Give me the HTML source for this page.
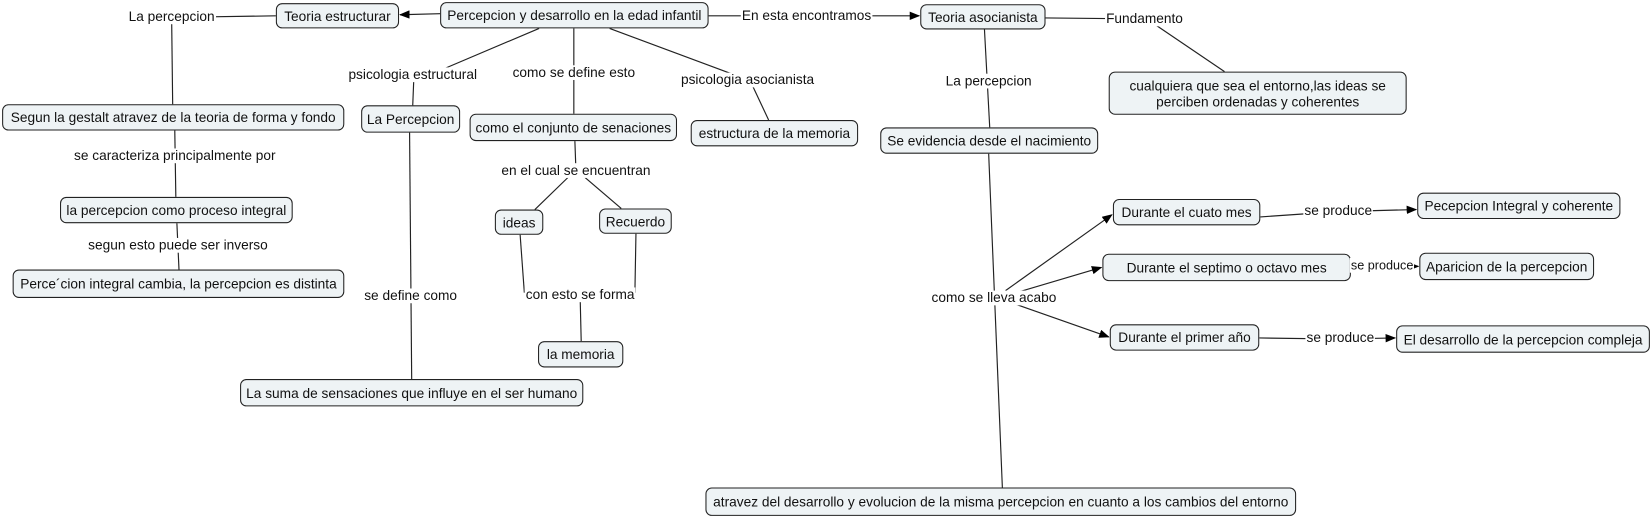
<!DOCTYPE html>
<html><head><meta charset="utf-8"><style>
html,body{margin:0;padding:0;background:#fff;width:1651px;height:519px;overflow:hidden}
#w{position:absolute;left:0;top:0;width:1568px;height:493px;transform:scale(1.0529);transform-origin:0 0;font-family:"Liberation Sans",sans-serif;font-size:13px;color:#111}
.n{position:absolute;box-sizing:border-box;border:1px solid #222;border-radius:6px;background:#eef3f5;display:flex;align-items:center;justify-content:center;text-align:center;line-height:15px;white-space:nowrap}
.l{position:absolute;background:#fff;transform:translate(-50%,-50%);white-space:nowrap;padding:0 1px;line-height:14px}
svg{position:absolute;left:0;top:0}
</style></head><body><div id="w">
<svg width="1568" height="493" viewBox="0 0 1568 493">
<defs><marker id="a" markerWidth="10" markerHeight="8" refX="9" refY="4" orient="auto" markerUnits="userSpaceOnUse"><path d="M0,0 L10,4 L0,8 z" fill="#000"/></marker></defs>
<g stroke="#222" stroke-width="1.1" fill="none">
<line x1="418" y1="13" x2="380" y2="14" marker-end="url(#a)"/>
<line x1="262" y1="15" x2="200" y2="16"/>
<line x1="163" y1="16" x2="164" y2="99"/>
<line x1="673" y1="15" x2="766" y2="15"/>
<line x1="766" y1="15" x2="873" y2="15" marker-end="url(#a)"/>
<line x1="993" y1="17" x2="1087" y2="18"/>
<line x1="1098" y1="24" x2="1163" y2="68"/>
<line x1="512" y1="27" x2="420" y2="66"/>
<line x1="393" y1="75" x2="392" y2="100"/>
<line x1="545" y1="27" x2="545" y2="108"/>
<line x1="579" y1="27" x2="700" y2="72"/>
<line x1="715" y1="82" x2="730" y2="114"/>
<line x1="935" y1="28" x2="940" y2="121"/>
<line x1="166" y1="124" x2="167" y2="187"/>
<line x1="168" y1="212" x2="170" y2="256"/>
<line x1="389" y1="126" x2="391" y2="360"/>
<line x1="546" y1="134" x2="547" y2="162"/>
<line x1="540" y1="168" x2="508" y2="199"/>
<line x1="555" y1="168" x2="590" y2="198"/>
<line x1="494" y1="223" x2="498" y2="278"/>
<line x1="604" y1="222" x2="603" y2="278"/>
<line x1="551" y1="282" x2="552" y2="324"/>
<line x1="939" y1="146" x2="952" y2="463"/>
<line x1="955" y1="276" x2="1056" y2="204" marker-end="url(#a)"/>
<line x1="965" y1="278" x2="1046" y2="254" marker-end="url(#a)"/>
<line x1="962" y1="288" x2="1053" y2="320" marker-end="url(#a)"/>
<line x1="1197" y1="206" x2="1270" y2="201"/>
<line x1="1270" y1="201" x2="1345" y2="199" marker-end="url(#a)"/>
<line x1="1283" y1="254" x2="1290" y2="253"/>
<line x1="1290" y1="253" x2="1347" y2="253" marker-end="url(#a)"/>
<line x1="1196" y1="321" x2="1273" y2="322"/>
<line x1="1273" y1="322" x2="1325" y2="321" marker-end="url(#a)"/>
</g></svg>
<div class="n" style="left:262px;top:3px;width:117px;height:24px">Teoria estructurar</div>
<div class="n" style="left:418px;top:2px;width:255px;height:25px">Percepcion y desarrollo en la edad infantil</div>
<div class="n" style="left:874px;top:4px;width:119px;height:24px">Teoria asocianista</div>
<div class="n" style="left:1053px;top:68px;width:283px;height:41px">cualquiera que sea el entorno,las ideas se<br>perciben ordenadas y coherentes</div>
<div class="n" style="left:2px;top:99px;width:325px;height:25px">Segun la gestalt atravez de la teoria de forma y fondo</div>
<div class="n" style="left:343px;top:100px;width:94px;height:26px">La Percepcion</div>
<div class="n" style="left:446px;top:108px;width:197px;height:26px">como el conjunto de senaciones</div>
<div class="n" style="left:656px;top:114px;width:159px;height:25px">estructura de la memoria</div>
<div class="n" style="left:836px;top:121px;width:207px;height:25px">Se evidencia desde el nacimiento</div>
<div class="n" style="left:57px;top:187px;width:221px;height:25px">la percepcion como proceso integral</div>
<div class="n" style="left:470px;top:199px;width:46px;height:24px">ideas</div>
<div class="n" style="left:569px;top:198px;width:69px;height:24px">Recuerdo</div>
<div class="n" style="left:12px;top:256px;width:315px;height:27px">Perce´cion integral cambia, la percepcion es distinta</div>
<div class="n" style="left:1057px;top:189px;width:140px;height:25px">Durante el cuato mes</div>
<div class="n" style="left:1346px;top:183px;width:193px;height:25px">Pecepcion Integral y coherente</div>
<div class="n" style="left:1047px;top:241px;width:236px;height:26px">Durante el septimo o octavo mes</div>
<div class="n" style="left:1348px;top:240px;width:166px;height:26px">Aparicion de la percepcion</div>
<div class="n" style="left:1054px;top:308px;width:142px;height:25px">Durante el primer año</div>
<div class="n" style="left:1326px;top:309px;width:241px;height:26px">El desarrollo de la percepcion compleja</div>
<div class="n" style="left:511px;top:324px;width:81px;height:25px">la memoria</div>
<div class="n" style="left:228px;top:360px;width:326px;height:26px">La suma de sensaciones que influye en el ser humano</div>
<div class="n" style="left:670px;top:463px;width:561px;height:27px">atravez del desarrollo y evolucion de la misma percepcion en cuanto a los cambios del entorno</div>
<div class="l" style="left:163px;top:16px">La percepcion</div>
<div class="l" style="left:766px;top:15px">En esta encontramos</div>
<div class="l" style="left:1087px;top:18px">Fundamento</div>
<div class="l" style="left:392px;top:71px">psicologia estructural</div>
<div class="l" style="left:545px;top:69px">como se define esto</div>
<div class="l" style="left:710px;top:76px">psicologia asocianista</div>
<div class="l" style="left:939px;top:77px">La percepcion</div>
<div class="l" style="left:166px;top:148px">se caracteriza principalmente por</div>
<div class="l" style="left:547px;top:162px">en el cual se encuentran</div>
<div class="l" style="left:169px;top:233px">segun esto puede ser inverso</div>
<div class="l" style="left:390px;top:281px">se define como</div>
<div class="l" style="left:551px;top:280px">con esto se forma</div>
<div class="l" style="left:944px;top:283px">como se lleva acabo</div>
<div class="l" style="left:1271px;top:200px">se produce</div>
<div class="l" style="left:1282px;top:252px;transform:translate(0,-50%);font-size:12px">se produce</div>
<div class="l" style="left:1273px;top:321px">se produce</div>
</div></body></html>
